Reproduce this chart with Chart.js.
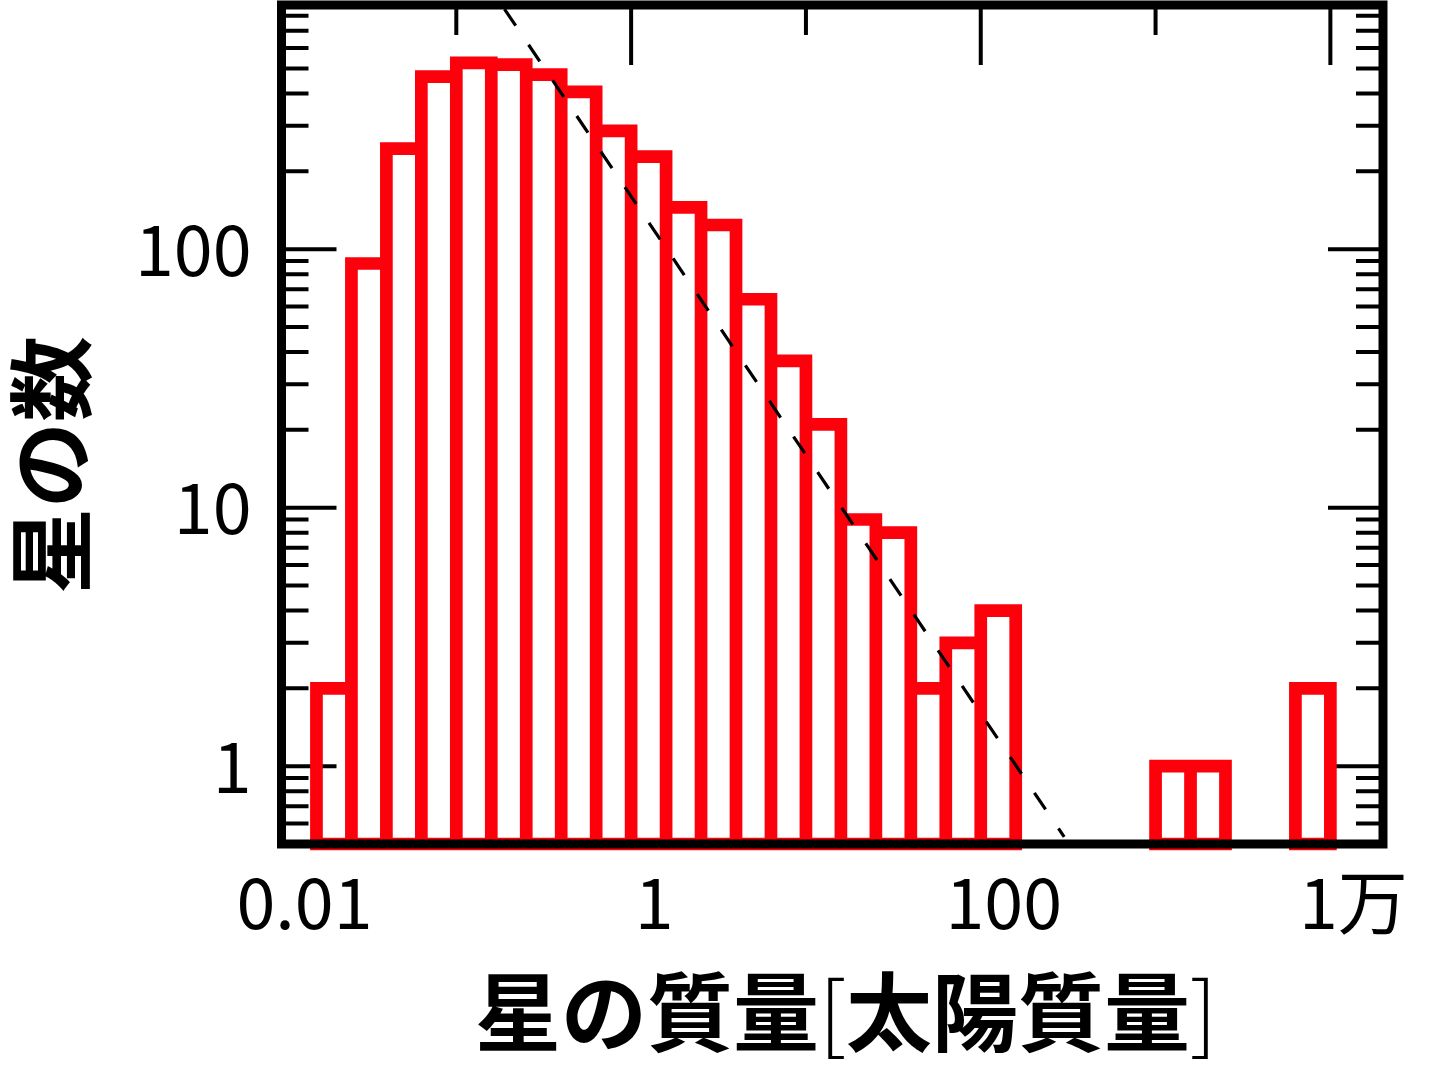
<!DOCTYPE html>
<html>
<head>
<meta charset="utf-8">
<script src="https://cdn.jsdelivr.net/npm/chart.js@4.4.1/dist/chart.umd.min.js"></script>
<style>
  html, body { margin: 0; padding: 0; background: #fff; }
  canvas { display: block; }
</style>
</head>
<body>
<canvas id="imfChart" width="1430" height="1083"></canvas>
<script>
// histogram bins: left edge in log10(solar masses), 0.2 dex wide
const binLogLeft = [-1.8, -1.6, -1.4, -1.2, -1.0, -0.8, -0.6, -0.4, -0.2, 0.0,
                    0.2, 0.4, 0.6, 0.8, 1.0, 1.2, 1.4, 1.6, 1.8, 2.0,
                    2.2, 2.4, 2.6, 2.8, 3.0, 3.2, 3.4, 3.6, 3.8];
const binWidthDex = 0.2;
const starCounts = [2, 88, 245, 465, 526, 517, 473, 406, 287, 228,
                    145, 124, 64, 37, 21, 9, 8, 2, 3, 4,
                    0, 0, 0, 0, 1, 1, 0, 0, 2];

// dashed power law line (N ~ 160 / M)
const fitMass = [0.1, 300];
const fitCount = [1600, 0.533];

const xLongTicks = [0.01, 1, 100, 10000];
const xShortTicks = [0.1, 10, 1000];
const xTickLabels = ['0.01', '1', '100', '1万'];
const yMajorTicks = [1, 10, 100];
const yMinorTicks = [0.6, 0.7, 0.8, 0.9, 2, 3, 4, 5, 6, 7, 8, 9,
                     20, 30, 40, 50, 60, 70, 80, 90, 200, 300, 400, 500, 600, 700, 800];
const yTickLabels = ['1', '10', '100'];

// x title pieces: bold text, thin brackets
const xTitleParts = ['星の質量', '[', '太陽質量', ']'];
const yTitle = '星の数';

const yMin = 0.5;
const fontFamily = '"Noto Sans CJK JP", "Noto Sans", sans-serif';
const red = 'rgb(252, 0, 12)';

// outline of every bar as one path, broken by gaps
const histPath = [];
binLogLeft.forEach(function(lg, i) {
    const c = starCounts[i];
    if (!c) return;
    const x0 = Math.pow(10, lg);
    const x1 = Math.pow(10, lg + binWidthDex);
    const xm = Math.pow(10, lg + binWidthDex / 2);
    histPath.push({x: xm, y: c}, {x: x1, y: c}, {x: x1, y: yMin},
                  {x: x0, y: yMin}, {x: x0, y: c}, {x: xm, y: c},
                  {x: xm, y: null});
});

const fitLine = fitMass.map((m, i) => ({x: m, y: fitCount[i]}));

const frameAndTicks = {
    id: 'frameAndTicks',
    beforeDatasetsDraw(chart) {
        const {ctx, chartArea: a, scales: {x, y}} = chart;
        ctx.save();
        ctx.strokeStyle = '#000';
        ctx.lineWidth = 4;
        ctx.beginPath();
        const yTick = (v, len) => {
            const py = y.getPixelForValue(v);
            ctx.moveTo(a.left, py); ctx.lineTo(a.left + len, py);
            ctx.moveTo(a.right, py); ctx.lineTo(a.right - len, py);
        };
        yMajorTicks.forEach(v => yTick(v, 55));
        yMinorTicks.forEach(v => yTick(v, 27));
        const xTick = (v, len) => {
            const px = x.getPixelForValue(v);
            ctx.moveTo(px, a.top); ctx.lineTo(px, a.top + len);
        };
        xLongTicks.forEach(v => xTick(v, 60));
        xShortTicks.forEach(v => xTick(v, 30));
        ctx.stroke();
        ctx.restore();
    },
    afterDatasetsDraw(chart) {
        const {ctx, chartArea: a} = chart;
        ctx.save();
        ctx.strokeStyle = '#000';
        ctx.lineWidth = 9;
        ctx.lineJoin = 'miter';
        ctx.strokeRect(a.left, a.top, a.right - a.left, a.bottom - a.top);

        // axis titles
        ctx.fillStyle = '#000';
        ctx.textBaseline = 'middle';
        const boldFont = 'bold 86px ' + fontFamily;
        const thinFont = '300 86px ' + fontFamily;
        const fonts = xTitleParts.map(p => (p === '[' || p === ']') ? thinFont : boldFont);
        const widths = xTitleParts.map((p, i) => { ctx.font = fonts[i]; return ctx.measureText(p).width; });
        let tx = 846 - widths.reduce((s, w) => s + w, 0) / 2;
        ctx.textAlign = 'left';
        xTitleParts.forEach((p, i) => {
            ctx.font = fonts[i];
            ctx.fillText(p, tx, 1012);
            tx += widths[i];
        });

        ctx.font = boldFont;
        ctx.textAlign = 'center';
        ctx.translate(51, 465);
        ctx.rotate(-Math.PI / 2);
        ctx.fillText(yTitle, 0, 0);
        ctx.restore();
    }
};

const ctx = document.getElementById('imfChart').getContext('2d');

new Chart(ctx, {
    type: 'scatter',
    data: {
        datasets: [{
            label: 'fit',
            data: fitLine,
            showLine: true,
            borderColor: '#000',
            borderWidth: 3.2,
            borderDash: [20, 23],
            pointRadius: 0,
            fill: false
        }, {
            label: 'hist',
            data: histPath,
            showLine: true,
            spanGaps: false,
            borderColor: red,
            borderWidth: 12.7,
            borderJoinStyle: 'miter',
            borderCapStyle: 'butt',
            pointRadius: 0,
            fill: false,
            clip: false
        }]
    },
    options: {
        responsive: false,
        animation: false,
        devicePixelRatio: 1,
        layout: { padding: { left: 0, right: 47, top: 5, bottom: 0 } },
        plugins: { legend: { display: false }, tooltip: { enabled: false } },
        scales: {
            x: {
                type: 'logarithmic',
                position: 'bottom',
                min: 0.01,
                max: 20000,
                grid: { display: false, drawTicks: false },
                border: { display: false },
                afterBuildTicks: s => { s.ticks = xLongTicks.map(v => ({value: v})); },
                afterFit: s => { s.height = 239; s.paddingLeft = 0; s.paddingRight = 0; },
                ticks: {
                    callback: (v, i) => xTickLabels[i],
                    autoSkip: false,
                    maxRotation: 0,
                    padding: 16,
                    labelOffset: 23,
                    color: '#000',
                    font: { family: fontFamily, size: 70 }
                }
            },
            y: {
                type: 'logarithmic',
                position: 'left',
                min: yMin,
                max: 880,
                grid: { display: false, drawTicks: false },
                border: { display: false },
                afterBuildTicks: s => { s.ticks = yMajorTicks.map(v => ({value: v})); },
                afterFit: s => { s.width = 281.5; s.paddingTop = 0; s.paddingBottom = 0; },
                ticks: {
                    callback: (v, i) => yTickLabels[i],
                    autoSkip: false,
                    padding: 30,
                    color: '#000',
                    font: { family: fontFamily, size: 70 }
                }
            }
        }
    },
    plugins: [frameAndTicks]
});
</script>
</body>
</html>
